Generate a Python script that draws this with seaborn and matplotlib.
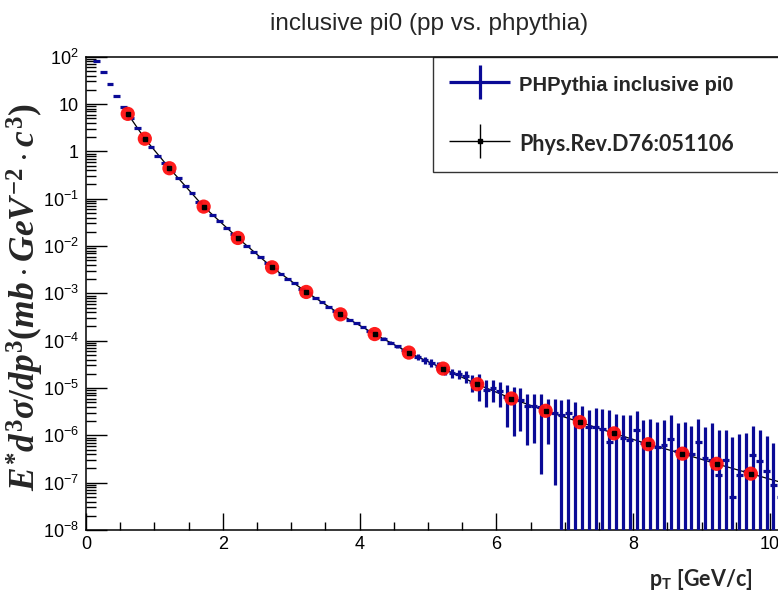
"""PHPythia inclusive pi0 spectrum compared with PHENIX pp data (Phys.Rev.D76:051106)."""
import numpy as np
import pandas as pd

import seaborn as sns
import matplotlib.pyplot as plt
import matplotlib.ticker as mticker
from matplotlib.container import ErrorbarContainer
from matplotlib.legend_handler import HandlerErrorbar

sns.set_theme(style="ticks")
plt.rcParams["font.family"] = ["Liberation Sans", "DejaVu Sans"]
plt.rcParams["mathtext.fontset"] = "custom"
plt.rcParams["mathtext.it"] = "Liberation Serif:italic:bold"
plt.rcParams["mathtext.rm"] = "Liberation Serif:bold"
plt.rcParams["mathtext.bf"] = "Liberation Serif:bold"


############################## Data.

# PHPythia histogram, 0.1 GeV/c bins starting at 0.
BIN_WIDTH = 0.1
sim_xsec = [
    1.5e2, 8.1e1, 4.7e1, 2.6e1, 1.5e1, 8.7, 5.0, 3.1, 1.86, 1.26,
    0.81, 0.56, 0.39, 0.27, 0.186, 0.129, 0.087, 0.062, 0.046, 0.034,
    2.45e-2, 1.82e-2, 1.35e-2, 1.02e-2, 7.6e-3, 5.75e-3, 4.4e-3, 3.3e-3, 2.57e-3, 2.04e-3,
    1.62e-3, 1.26e-3, 1.0e-3, 8.1e-4, 6.5e-4, 5.2e-4, 4.3e-4, 3.4e-4, 2.8e-4, 2.34e-4,
    1.9e-4, 1.58e-4, 1.32e-4, 1.1e-4, 9.1e-5, 7.6e-5, 6.3e-5, 5.4e-5, 4.6e-5, 3.9e-5,
    3.4e-5, 2.9e-5, 2.45e-5, 2.1e-5, 1.95e-5, 1.78e-5, 1.35e-5, 1.25e-5, 9.3e-6, 9.8e-6,
    8.7e-6, 6.5e-6, 5.75e-6, 5.5e-6, 4.1e-6, 4.1e-6, 3.9e-6, 3.3e-6, 3.0e-6, 2.7e-6,
    2.9e-6, 2.45e-6, 2.0e-6, 1.5e-6, 1.5e-6, 1.38e-6, 7.2e-7, 1.0e-6, 8.9e-7, 8.1e-7,
    1.29e-6, 6.8e-7, 6.2e-7, 5.7e-7, 6.4e-7, 8.5e-7, 4.7e-7, 4.3e-7, 4.0e-7, 7.2e-7,
    3.4e-7, 2.95e-7, 1.45e-7, 2.95e-7, 5.0e-8, 1.45e-7, 1.8e-7, 3.8e-7, 2.9e-7, 1.8e-7,
    8.9e-8, 5.0e-8,
]
sim_relerr = [
    0.01, 0.01, 0.01, 0.01, 0.01, 0.01, 0.01, 0.01, 0.01, 0.01,
    0.01, 0.01, 0.01, 0.01, 0.01, 0.01, 0.01, 0.01, 0.01, 0.01,
    0.01, 0.01, 0.01, 0.01, 0.01, 0.01, 0.01, 0.01, 0.01, 0.01,
    0.02, 0.02, 0.025, 0.025, 0.03, 0.03, 0.035, 0.035, 0.04, 0.04,
    0.045, 0.05, 0.06, 0.07, 0.08, 0.09, 0.10, 0.12, 0.14, 0.16,
    0.18, 0.20, 0.23, 0.23, 0.22, 0.29, 0.38, 0.57, 0.57, 0.49,
    0.55, 0.77, 0.83, 0.78, 0.85, 0.83, 0.96, 0.80, 0.97, 1.04,
    1.03, 1.02, 1.05, 1.27, 1.47, 1.67, 3.75, 1.80, 1.99, 2.28,
    1.55, 2.06, 2.65, 2.37, 2.27, 2.12, 2.87, 3.49, 3.00, 2.08,
    3.44, 5.08, 7.90, 3.39, 17.6, 6.20, 5.10, 3.16, 3.45, 4.44,
    6.70, 10.0,
]

# PHENIX measurement, Phys.Rev.D76:051106.
data_pt = [0.61, 0.86, 1.22, 1.72, 2.22, 2.72, 3.22, 3.72, 4.22, 4.72,
           5.22, 5.72, 6.22, 6.72, 7.22, 7.72, 8.22, 8.72, 9.22, 9.72, 10.22]
data_xsec = [6.2, 1.85, 0.44, 6.8e-2, 1.48e-2, 3.55e-3, 1.07e-3, 3.6e-4, 1.38e-4, 5.6e-5,
             2.57e-5, 1.2e-5, 6.0e-6, 3.3e-6, 1.9e-6, 1.1e-6, 6.5e-7, 4.1e-7, 2.5e-7, 1.55e-7,
             9.6e-8]

df_sim = pd.DataFrame({"xsec": sim_xsec, "relerr": sim_relerr})
df_sim["pt"] = (np.arange(len(df_sim)) + 0.5) * BIN_WIDTH
df_sim["err"] = df_sim["xsec"] * df_sim["relerr"]
df_data = pd.DataFrame({"pt": data_pt, "xsec": data_xsec})


############################## Figure.

W, H = 778, 596
BLUE = "#0a0a96"
fig = plt.figure(figsize=(W / 100, H / 100), dpi=100)
ax = fig.add_axes([86 / W, 1 - 530 / H, (W - 86) / W, (530 - 56.7) / H])

# black line through the data
sns.lineplot(data=df_data, x="pt", y="xsec", color="black", lw=0.9,
             ax=ax, zorder=2, legend=False)

sim = ax.errorbar(df_sim["pt"], df_sim["xsec"], xerr=BIN_WIDTH / 2, yerr=df_sim["err"],
                  fmt="none", ecolor=BLUE, elinewidth=2.3, capsize=0, zorder=3,
                  label="PHPythia inclusive pi0")

sns.scatterplot(data=df_data, x="pt", y="xsec", color="#ff1010", s=105, linewidth=0,
                edgecolor="none", alpha=0.95, ax=ax, zorder=4, legend=False)

phenix = ax.errorbar(df_data["pt"], df_data["xsec"], xerr=np.zeros(len(df_data)),
                     yerr=np.zeros(len(df_data)), fmt="s", color="black", ms=3,
                     elinewidth=1, capsize=0, zorder=5, label="Phys.Rev.D76:051106")

# axes
ax.set_yscale("log")
ax.set_ylim(1e-8, 1e2)
ax.set_xlim(0, (W - 86) / 68.4)
ax.set_xlabel("")
ax.set_ylabel("")


def decade_label(v, pos):
    n = int(round(np.log10(v)))
    if n == 0:
        return "1"
    if n == 1:
        return "10"
    return r"$\mathregular{10^{%d}}$" % n


ax.yaxis.set_major_locator(mticker.LogLocator(base=10, numticks=20))
ax.yaxis.set_minor_locator(mticker.LogLocator(base=10, subs=np.arange(2, 10), numticks=200))
ax.yaxis.set_major_formatter(mticker.FuncFormatter(decade_label))
ax.yaxis.set_minor_formatter(mticker.NullFormatter())
ax.xaxis.set_major_locator(mticker.MultipleLocator(2))
ax.xaxis.set_minor_locator(mticker.MultipleLocator(0.5))

ax.tick_params(which="both", direction="in", color="black", width=1.0,
               labelsize=13, labelcolor="black")
ax.tick_params(axis="x", which="major", length=12, pad=4)
ax.tick_params(axis="x", which="minor", length=6)
ax.tick_params(axis="y", which="major", length=15, pad=5)
ax.tick_params(axis="y", which="minor", length=7)
for lab in ax.get_xticklabels() + ax.get_yticklabels():
    lab.set_fontfamily(["Liberation Sans Narrow", "Liberation Sans"])
sns.despine(ax=ax, top=False, right=True)
for side in ["top", "left", "bottom"]:
    ax.spines[side].set_color("black")
    ax.spines[side].set_linewidth(1.1)

# legend (its right side runs off the picture, as in the original)
leg = ax.legend(handles=[sim, phenix], loc="upper left", mode="expand",
                bbox_to_anchor=((433.3 - 86) / (W - 86), 0.0, 0.6, 1.0), borderaxespad=0,
                prop=dict(size=14.5, weight="bold"), frameon=True, fancybox=False,
                edgecolor="black", borderpad=0.77, handlelength=3.05, handleheight=1.55,
                labelspacing=1.7, handletextpad=0.45,
                handler_map={ErrorbarContainer: HandlerErrorbar(xerr_size=1.53, yerr_size=0.84)})
leg.get_frame().set_linewidth(1.0)
leg.get_texts()[1].set_fontfamily(["Lato", "DejaVu Sans"])
leg.get_texts()[1].set_fontsize(15.5)

# texts
fig.text(429 / W, 1 - 24 / H, "inclusive pi0 (pp vs. phpythia)",
         ha="center", va="center", fontsize=17.5)
fig.text(752 / W, 1 - 580 / H, r"$\mathregular{p_{T}}$ [GeV/c]",
         ha="right", va="center", fontsize=15.5, fontweight="bold",
         family=["Lato", "DejaVu Sans"])
fig.text(25 / W, 1 - 297.5 / H,
         r"$E^{*}d^{3}\sigma/dp^{3}(mb\cdot GeV^{-2}\cdot c^{3})$",
         rotation=90, ha="center", va="center", fontsize=25.5)

fig.savefig("out.png", dpi=100)
plt.close(fig)
